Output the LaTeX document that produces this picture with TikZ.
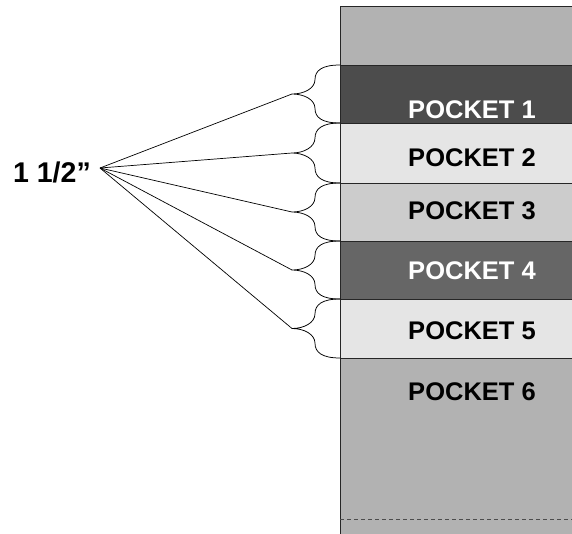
\documentclass[tikz,border=0pt]{standalone}
\usepackage{fontspec}
\setmainfont{Liberation Sans}
\usetikzlibrary{positioning,calc}

% curly brace on the left side of a band, tip named <band>tip
\newcommand\pocketbrace[1]{%
  \draw[brace] (#1.north west)
    .. controls +(-18,0) and +(0,-9) .. ($(#1.north west)!.25!(#1.south west)+(-25,0)$)
    .. controls +(0,9) and +(12,0) .. ($(#1.west)+(-48,0)$) coordinate (#1tip)
    .. controls +(12,0) and +(0,-9) .. ($(#1.west)!.5!(#1.south west)+(-25,0)$)
    .. controls +(0,9) and +(-18,0) .. (#1.south west);}

\begin{document}
\begin{tikzpicture}[%
  x=1pt, y=-1pt,
  band/.style = {draw=black!85, line width=0.8pt, minimum width=240pt,
                 inner sep=0pt, outer sep=0pt},
  caption/.style = {font=\fontsize{25.5}{27}\selectfont\bfseries, inner sep=0pt},
  brace/.style = {line width=0.75pt},
  fan/.style = {line width=0.7pt},
]
  \useasboundingbox (0,0) rectangle (572,533);

  \node[band, fill=black!30, minimum height=59pt, anchor=north west] (b0) at (340,6) {};
  \node[band, fill=black!70, minimum height=58pt, below=0pt of b0] (b1) {};
  \node[band, fill=black!10, minimum height=60pt, below=0pt of b1] (b2) {};
  \node[band, fill=black!20, minimum height=58pt, below=0pt of b2] (b3) {};
  \node[band, fill=black!60, minimum height=58pt, below=0pt of b3] (b4) {};
  \node[band, fill=black!10, minimum height=59pt, below=0pt of b4] (b5) {};
  \node[band, fill=black!30, minimum height=185pt, below=0pt of b5] (b6) {};

  \draw[dashed, dash pattern=on 4pt off 3pt, black!70, line width=0.7pt]
    (b6.west |- 0,519) -- (572,519);

  \node[caption, white] (t1) at (472,110) {POCKET 1};
  \node[caption] (t2) at (472,158) {POCKET 2};
  \node[caption] (t3) at (472,211) {POCKET 3};
  \node[caption, white] (t4) at (472,271) {POCKET 4};
  \node[caption] (t5) at (472,331) {POCKET 5};
  \node[caption] (t6) at (472,392) {POCKET 6};

  \pocketbrace{b1}
  \pocketbrace{b2}
  \pocketbrace{b3}
  \pocketbrace{b4}
  \pocketbrace{b5}

  \coordinate (apex) at (100,168);
  \node[caption, font=\fontsize{28.5}{30}\selectfont\bfseries,
        left=9pt of apex, yshift=-4pt] (size) {1 1/2”};

  \draw[fan] (apex) -- (b1tip);
  \draw[fan] (apex) -- (b2tip);
  \draw[fan] (apex) -- (b3tip);
  \draw[fan] (apex) -- (b4tip);
  \draw[fan] (apex) -- (b5tip);

\end{tikzpicture}
\end{document}
